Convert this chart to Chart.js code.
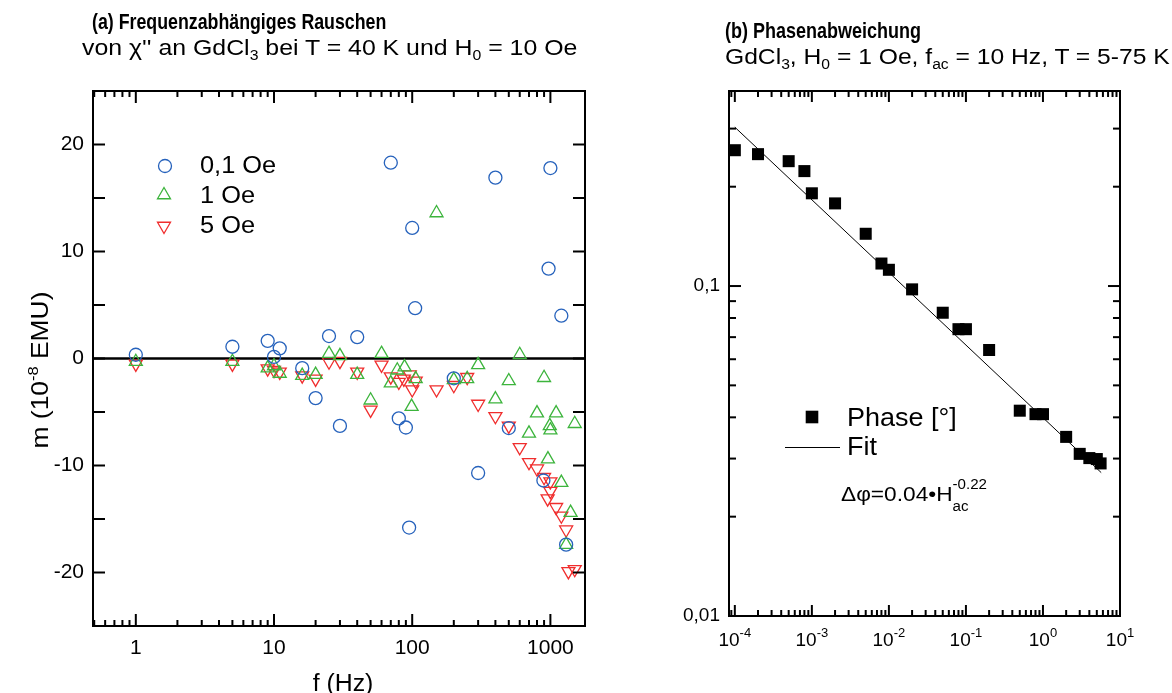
<!DOCTYPE html>
<html>
<head>
<meta charset="utf-8">
<script src="https://cdn.jsdelivr.net/npm/chart.js@4.4.1/dist/chart.umd.min.js"></script>
<style>
  body { margin: 0; background: #fff; width: 1172px; height: 693px; overflow: hidden; position: relative;
         font-family: "Liberation Sans", Arial, sans-serif; }
  canvas { position: absolute; top: 0; }
  #leftChart { left: 0; }
  #rightChart { left: 600px; }
  .t { position: absolute; white-space: nowrap; color: #000; z-index: 2; transform-origin: 0 50%; }
  .sb { font-size: 14px; position: relative; top: 5px; }
</style>
</head>
<body>
<canvas id="leftChart" width="600" height="693"></canvas>
<canvas id="rightChart" width="572" height="693"></canvas>

<div class="t" style="left:92px;top:11px;font-size:22.5px;line-height:22px;font-weight:bold;transform:scaleX(0.79);">(a) Frequenzabhängiges Rauschen</div>
<div class="t" style="left:82px;top:37px;font-size:22px;line-height:22px;transform:scaleX(1.13);">von χ'' an GdCl<span class="sb">3</span> bei T = 40 K und H<span class="sb">0</span> = 10 Oe</div>
<div class="t" style="left:725px;top:20px;font-size:22.5px;line-height:22px;font-weight:bold;transform:scaleX(0.8);">(b) Phasenabweichung</div>
<div class="t" style="left:725px;top:46px;font-size:22px;line-height:22px;transform:scaleX(1.12);">GdCl<span class="sb">3</span>, H<span class="sb">0</span> = 1 Oe, f<span class="sb">ac</span> = 10 Hz, T = 5-75 K</div>

<script>
// ---- (a) frequency dependent noise, m in 1e-8 EMU ----
const blueF = [1, 5, 9, 10, 11, 16, 20, 25, 30, 40, 70, 80, 90, 95, 100, 105, 200, 300, 400, 500, 890, 970, 1000, 1200, 1300];
const blueM = [0.35, 1.1, 1.65, 0.15, 0.95, -0.9, -3.7, 2.1, -6.3, 2.0, 18.3, -5.6, -6.45, -15.8, 12.2, 4.7, -1.85, -10.7, 16.9, -6.5, -11.4, 8.4, 17.8, 4.0, -17.4];

const greenF = [1, 5, 9, 10, 11, 16, 20, 25, 30, 40, 50, 60, 70, 78, 88, 99, 106, 150, 200, 250, 300, 400, 500, 600, 700, 800, 900, 960, 990, 1000, 1100, 1200, 1300, 1400, 1500];
const greenM = [-0.3, -0.3, -0.9, -0.7, -1.4, -1.6, -1.5, 0.45, 0.25, -1.5, -3.9, 0.45, -2.3, -1.1, -0.8, -4.5, -1.9, 13.6, -2.0, -1.9, -0.6, -3.8, -2.1, 0.35, -7.0, -5.1, -1.8, -9.4, -6.3, -6.7, -5.1, -11.6, -17.4, -14.4, -6.1];

const redF = [1, 5, 9, 10, 11, 16, 20, 25, 30, 40, 50, 60, 70, 80, 87, 96, 100, 106, 150, 200, 250, 300, 400, 500, 600, 700, 800, 900, 1000, 1000, 955, 1100, 1200, 1300, 1350, 1500];
const redM = [-0.5, -0.5, -0.95, -1.1, -1.25, -1.6, -1.9, -0.3, -0.25, -1.25, -4.8, -0.6, -1.7, -2.2, -1.9, -1.5, -2.9, -2.1, -2.9, -2.5, -1.75, -4.25, -5.4, -6.3, -8.3, -9.7, -10.3, -11.1, -11.5, -12.4, -13.1, -13.9, -14.7, -16.0, -19.9, -19.7];

const fLabels = [1, 10, 100, 1000];
const mLabels = [-20, -10, 0, 10, 20];
const mTickMarks = [-20, -15, -10, -5, 0, 5, 10, 15, 20];

// ---- (b) phase deviation ----
const hac = [1e-4, 2e-4, 5e-4, 8e-4, 1e-3, 2e-3, 5e-3, 8e-3, 1e-2, 2e-2, 5e-2, 8e-2, 0.1, 0.2, 0.5, 0.8, 1, 2, 3, 4, 5, 5.6];
const phase = [0.258, 0.251, 0.239, 0.223, 0.191, 0.178, 0.144, 0.117, 0.112, 0.0977, 0.083, 0.074, 0.074, 0.064, 0.0419, 0.0409, 0.0409, 0.0349, 0.031, 0.0301, 0.0299, 0.029];
const fitH = [1e-4, 5.7];
const fitPhase = [0.303, 0.0272];
const hExponents = [-4, -3, -2, -1, 0, 1];
const phaseLabels = [0.01, 0.1];

const FONT = '"Liberation Sans", Arial, sans-serif';
const SX = 1.08; // the reference type runs a bit wide
const BLUE = 'rgb(38,98,188)';
const GREEN = 'rgb(60,180,60)';
const RED = 'rgb(240,45,45)';

function pts(xs, ys) { return xs.map((x, i) => ({ x: x, y: ys[i] })); }

function line(ctx, x1, y1, x2, y2) {
  ctx.beginPath(); ctx.moveTo(x1, y1); ctx.lineTo(x2, y2); ctx.stroke();
}

// parts: [{t, size, dy, stack}] on one baseline; align 'left' | 'center'; sx = horizontal stretch
function rich(ctx, x, y, parts, align, sx) {
  sx = sx || 1;
  let w = 0;
  parts.forEach(p => { ctx.font = p.size + 'px ' + FONT; p.w = ctx.measureText(p.t).width; if (!p.stack) w += p.w; });
  ctx.save();
  ctx.translate(align === 'center' ? x - w * sx / 2 : x, y);
  ctx.scale(sx, 1);
  ctx.textAlign = 'left';
  ctx.textBaseline = 'alphabetic';
  let cx = 0, last = 0;
  parts.forEach(p => {
    ctx.font = p.size + 'px ' + FONT;
    ctx.fillText(p.t, p.stack ? last : cx, p.dy || 0);
    if (!p.stack) { last = cx; cx += p.w; }
  });
  ctx.restore();
}

// log ticks (1..9 per decade) within [lo, hi]
function logTicks(lo, hi) {
  const out = [];
  for (let e = Math.floor(Math.log10(lo)); e <= Math.ceil(Math.log10(hi)); e++) {
    for (let k = 1; k < 10; k++) {
      const v = k * Math.pow(10, e);
      if (v >= lo && v <= hi) out.push({ v: v, major: k === 1 });
    }
  }
  return out;
}

function triangle(ctx, x, y, r, down) {
  const s = down ? -1 : 1;
  ctx.beginPath();
  ctx.moveTo(x, y - s * r);
  ctx.lineTo(x + r * 0.866, y + s * r / 2);
  ctx.lineTo(x - r * 0.866, y + s * r / 2);
  ctx.closePath();
  ctx.stroke();
}

const leftDecor = {
  id: 'leftDecor',
  beforeDatasetsDraw(chart) {
    const { ctx, chartArea: a, scales: { y } } = chart;
    const y0 = y.getPixelForValue(0);
    ctx.save();
    ctx.strokeStyle = '#000'; ctx.lineWidth = 2.5;
    line(ctx, a.left, y0, a.right, y0);
    ctx.restore();
  },
  afterDraw(chart) {
    const { ctx, chartArea: a, scales: { x, y } } = chart;
    ctx.save();
    ctx.strokeStyle = '#000'; ctx.fillStyle = '#000'; ctx.lineWidth = 2;
    ctx.strokeRect(a.left, a.top, a.width, a.height);
    logTicks(x.min, x.max).forEach(t => {
      const px = x.getPixelForValue(t.v), len = t.major ? 12 : 6;
      line(ctx, px, a.bottom, px, a.bottom - len);
      line(ctx, px, a.top, px, a.top + len);
    });
    mTickMarks.forEach(v => {
      const py = y.getPixelForValue(v);
      line(ctx, a.left, py, a.left + 12, py);
      line(ctx, a.right, py, a.right - 12, py);
    });
    // axis titles
    rich(ctx, 343, 691, [{ t: 'f (Hz)', size: 23 }], 'center', SX);
    ctx.save();
    ctx.translate(40, 370); ctx.rotate(-Math.PI / 2);
    rich(ctx, 0, 8, [{ t: 'm (10', size: 24 }, { t: '-8', size: 15, dy: -10 }, { t: ' EMU)', size: 24 }], 'center', 1.1);
    ctx.restore();
    // legend
    ctx.lineWidth = 1.3;
    ctx.strokeStyle = BLUE;
    ctx.beginPath(); ctx.arc(165, 166, 6.5, 0, Math.PI * 2); ctx.stroke();
    ctx.strokeStyle = GREEN; triangle(ctx, 164, 195, 7.5, false);
    ctx.strokeStyle = RED; triangle(ctx, 164, 226, 7.5, true);
    rich(ctx, 200, 173, [{ t: '0,1 Oe', size: 23.5 }], 'left', SX);
    rich(ctx, 200, 203, [{ t: '1 Oe', size: 23.5 }], 'left', SX);
    rich(ctx, 200, 233, [{ t: '5 Oe', size: 23.5 }], 'left', SX);
    ctx.restore();
  }
};

const rightDecor = {
  id: 'rightDecor',
  afterDraw(chart) {
    const { ctx, chartArea: a, scales: { x, y } } = chart;
    ctx.save();
    ctx.strokeStyle = '#000'; ctx.fillStyle = '#000'; ctx.lineWidth = 2;
    ctx.strokeRect(a.left, a.top, a.width, a.height);
    logTicks(x.min, x.max).forEach(t => {
      const px = x.getPixelForValue(t.v), len = t.major ? 11 : 6;
      line(ctx, px, a.bottom, px, a.bottom - len);
      line(ctx, px, a.top, px, a.top + len);
    });
    logTicks(y.min, y.max).forEach(t => {
      const py = y.getPixelForValue(t.v), len = t.major ? 12 : 7;
      line(ctx, a.left, py, a.left + len, py);
      line(ctx, a.right, py, a.right - len, py);
    });
    // x tick labels with exponents
    hExponents.forEach(e => {
      const px = x.getPixelForValue(Math.pow(10, e));
      rich(ctx, px, 646, [{ t: '10', size: 19 }, { t: String(e), size: 13, dy: -9 }], 'center');
    });
    // axis titles
    rich(ctx, 885, 684, [{ t: 'H', size: 22 }, { t: 'ac', size: 15, dy: 8 }, { t: '(Oe)', size: 22 }], 'left', SX);
    ctx.save();
    ctx.translate(683, 370); ctx.rotate(-Math.PI / 2);
    rich(ctx, 0, 8, [{ t: 'Δφ (°)', size: 23 }], 'center', 1.1);
    ctx.restore();
    // legend
    const pr = 6.3;
    ctx.fillRect(812 - 600 - pr, 417 - pr, pr * 2, pr * 2);
    ctx.lineWidth = 1;
    line(ctx, 785 - 600, 447.5, 840 - 600, 447.5);
    rich(ctx, 847 - 600, 426, [{ t: 'Phase [°]', size: 25 }], 'left', SX);
    rich(ctx, 847 - 600, 455, [{ t: 'Fit', size: 25 }], 'left', SX);
    rich(ctx, 841 - 600, 501, [{ t: 'Δφ=0.04•H', size: 21 }, { t: 'ac', size: 14, dy: 10 }, { t: '-0.22', size: 14, dy: -12, stack: true }], 'left', SX);
    ctx.restore();
  }
};

const markerBase = { showLine: false, pointBackgroundColor: 'rgba(0,0,0,0)', pointBorderWidth: 1.3 };
const noGrid = { display: false, drawTicks: false };

new Chart(document.getElementById('leftChart'), {
  type: 'scatter',
  data: {
    datasets: [
      Object.assign({ label: '0,1 Oe', data: pts(blueF, blueM), pointStyle: 'circle', pointRadius: 6.5, pointBorderColor: BLUE }, markerBase),
      Object.assign({ label: '1 Oe', data: pts(greenF, greenM), pointStyle: 'triangle', pointRadius: 7.5, pointBorderColor: GREEN }, markerBase),
      Object.assign({ label: '5 Oe', data: pts(redF, redM), pointStyle: 'triangle', pointRotation: 180, pointRadius: 7.5, pointBorderColor: RED }, markerBase)
    ]
  },
  options: {
    responsive: false, animation: false,
    layout: { padding: { top: 91, right: 15, left: 0, bottom: 0 } },
    plugins: { legend: { display: false }, tooltip: { enabled: false } },
    scales: {
      x: {
        type: 'logarithmic', min: 0.49, max: 1780,
        grid: noGrid, border: { display: false },
        afterBuildTicks: s => { s.ticks = fLabels.map(v => ({ value: v })); },
        afterFit: s => { s.height = 67; },
        ticks: { autoSkip: false, maxRotation: 0, padding: 10, color: '#000', font: { family: FONT, size: 21 }, callback: v => String(v) }
      },
      y: {
        type: 'linear', min: -25, max: 25,
        grid: noGrid, border: { display: false },
        afterBuildTicks: s => { s.ticks = mLabels.map(v => ({ value: v })); },
        afterFit: s => { s.width = 93; },
        ticks: { padding: 9, color: '#000', font: { family: FONT, size: 21 }, callback: v => String(v) }
      }
    }
  },
  plugins: [leftDecor]
});

new Chart(document.getElementById('rightChart'), {
  type: 'scatter',
  data: {
    datasets: [
      { label: 'Phase [°]', data: pts(hac, phase), showLine: false, pointStyle: 'rect', pointRadius: 8.5, pointBackgroundColor: '#000', pointBorderColor: '#000', pointBorderWidth: 0 },
      { label: 'Fit', data: pts(fitH, fitPhase), showLine: true, borderColor: '#000', borderWidth: 1, pointRadius: 0 }
    ]
  },
  options: {
    responsive: false, animation: false,
    layout: { padding: { top: 91, right: 52, left: 0, bottom: 0 } },
    plugins: { legend: { display: false }, tooltip: { enabled: false } },
    scales: {
      x: {
        type: 'logarithmic', min: 8.4e-5, max: 10,
        grid: noGrid, border: { display: false },
        afterBuildTicks: s => { s.ticks = hExponents.map(e => ({ value: Math.pow(10, e) })); },
        afterFit: s => { s.height = 77; },
        ticks: { display: false }
      },
      y: {
        type: 'logarithmic', min: 0.01, max: 0.39,
        grid: noGrid, border: { display: false },
        afterBuildTicks: s => { s.ticks = phaseLabels.map(v => ({ value: v })); },
        afterFit: s => { s.width = 129; },
        ticks: { padding: 9, color: '#000', font: { family: FONT, size: 19 }, callback: v => String(v).replace('.', ',') }
      }
    }
  },
  plugins: [rightDecor]
});
</script>
</body>
</html>
